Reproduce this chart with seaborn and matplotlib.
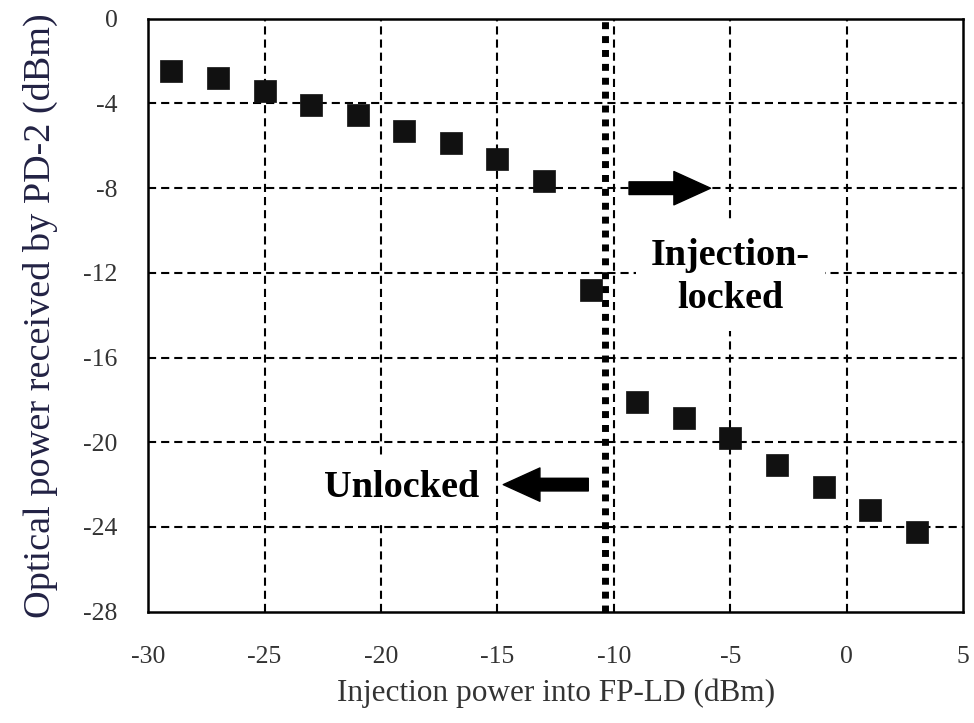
import matplotlib
matplotlib.use("Agg")
import matplotlib.pyplot as plt
import seaborn as sns
import pandas as pd

# Data
injection_power = [-29, -27, -25, -23, -21, -19, -17, -15, -13, -11,
                   -9, -7, -5, -3, -1, 1, 3]
received_power = [-2.45, -2.78, -3.39, -4.05, -4.53, -5.28, -5.85, -6.6, -7.68,
                  -12.82, -18.1, -18.86, -19.8, -21.07, -22.1, -23.2, -24.23]
x_ticks = [-30, -25, -20, -15, -10, -5, 0, 5]
y_ticks = [0, -4, -8, -12, -16, -20, -24, -28]
threshold = -10.4

sns.set_style("white")
plt.rcParams["font.family"] = ["Liberation Serif", "DejaVu Serif"]
plt.rcParams["axes.unicode_minus"] = False

df = pd.DataFrame({"x": injection_power, "y": received_power})

fig = plt.figure(figsize=(9.74, 7.23), dpi=100)
ax = fig.add_axes([0.152, 0.154, 0.837, 0.820])

sns.scatterplot(data=df, x="x", y="y", marker="s", s=250, color="#111111",
                edgecolor="#111111", linewidth=0.5, ax=ax, zorder=3)

ax.set_xlim(-30, 5)
ax.set_ylim(-28, 0)
ax.set_xticks(x_ticks)
ax.set_yticks(y_ticks)
ax.set_xticklabels([str(v) for v in x_ticks])
ax.set_yticklabels([str(v) for v in y_ticks])

for v in x_ticks[1:-1]:
    ax.axvline(v, color="black", lw=1.5, dashes=(3.9, 2.4), zorder=1)
for v in y_ticks[1:-1]:
    ax.axhline(v, color="black", lw=1.5, dashes=(3.9, 2.4), zorder=1)

ax.axvline(threshold, color="black", lw=5, dashes=(1, 1), zorder=2)

for s in ax.spines.values():
    s.set_color("black")
    s.set_linewidth(1.8)

ax.tick_params(axis="both", length=0, labelsize=18.5, labelcolor="#333333")
ax.tick_params(axis="x", pad=25)
ax.tick_params(axis="y", pad=22)

ax.set_xlabel("Injection power into FP-LD (dBm)", fontsize=22.5, color="#333333", labelpad=7)
ax.set_ylabel("Optical power received by PD-2 (dBm)", fontsize=27.5, color="#222244", labelpad=18)

arrow_style = "simple,head_length=1.1,head_width=1.0,tail_width=0.38"
ax.annotate("", xy=(-5.85, -8.0), xytext=(-9.35, -8.0),
            arrowprops=dict(arrowstyle=arrow_style, mutation_scale=24,
                            color="black", shrinkA=0, shrinkB=0))
ax.annotate("", xy=(-14.75, -22.0), xytext=(-11.1, -22.0),
            arrowprops=dict(arrowstyle=arrow_style, mutation_scale=24,
                            color="black", shrinkA=0, shrinkB=0))

ax.text(-5.0, -12.2, "Injection-\nlocked", ha="center", va="center",
        fontsize=27.5, fontweight="bold", linespacing=1.3, color="black",
        bbox=dict(facecolor="white", edgecolor="none", pad=11), zorder=4)
ax.text(-19.1, -22.15, "Unlocked", ha="center", va="center",
        fontsize=27.5, fontweight="bold", color="black",
        bbox=dict(facecolor="white", edgecolor="none", pad=11), zorder=4)

fig.savefig("out.png", dpi=100)
